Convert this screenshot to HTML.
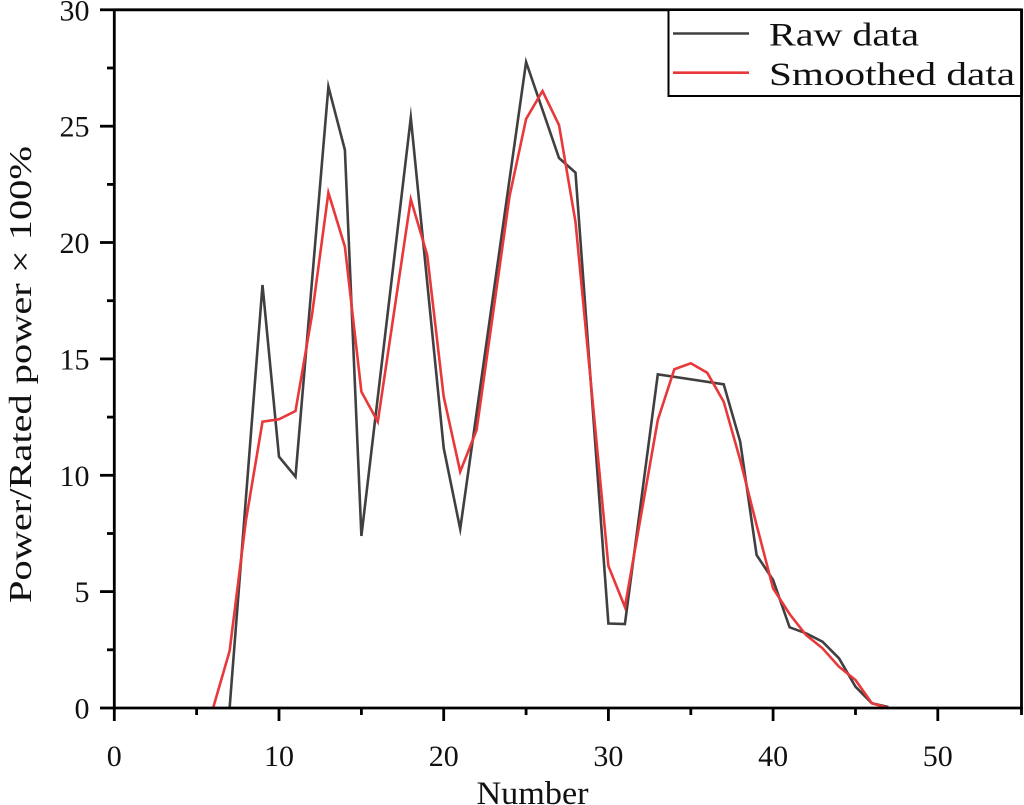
<!DOCTYPE html>
<html>
<head>
<meta charset="utf-8">
<style>
  html, body { margin: 0; padding: 0; background: #ffffff; }
  svg { display: block; }
  text { font-family: "Liberation Serif", "Noto Serif CJK SC", serif; fill: #111; }
</style>
</head>
<body>
<svg width="1024" height="805" viewBox="0 0 1024 805" xmlns="http://www.w3.org/2000/svg">
  <rect x="0" y="0" width="1024" height="805" fill="#ffffff"/>

  <!-- Series: Raw data -->
  <polyline fill="none" stroke="#404040" stroke-width="2.6" stroke-linejoin="miter" stroke-miterlimit="10"
    points="229.6,708 262.5,285 279,456.7 295.5,476.7 328.4,86.7 344.9,150 361.4,536 410.8,117.7 443.7,448 460.2,529 526.1,62 559,158 575.5,172.6 608.4,623.5 624.9,624 657.8,374.3 723.7,384.3 740.2,441.7 756.6,555 773.1,580 789.6,627.3 806,633.3 822.5,641.7 839,658.3 855.5,686.7 871.9,703.3 888.4,707"/>

  <!-- Series: Smoothed data -->
  <polyline fill="none" stroke="#e8383a" stroke-width="2.6" stroke-linejoin="miter" stroke-miterlimit="10"
    points="213.1,708 229.6,651 246,520 262.5,421.7 279,419.3 295.5,411 312,315 328.4,192.7 344.9,246.7 361.4,391.7 377.8,421.7 410.8,199.3 427.2,255 443.7,396.7 460.2,471.7 476.6,430 509.6,196 526.1,119 542.5,91 559,125 575.5,222 608.4,566 624.9,607 657.8,420 674.3,369.3 690.8,363.3 707.2,372.7 723.7,401.7 740.2,460 756.6,525 773.1,588.3 789.6,614 806,635 822.5,648.3 839,666.7 855.5,680 871.9,703.3 888.4,708"/>

  <!-- Axes frame -->
  <g stroke="#000" stroke-width="2.8" fill="none">
    <line x1="114.3" y1="9.8" x2="1021.5" y2="9.8"/>
    <line x1="1021.5" y1="8.5" x2="1021.5" y2="715"/>
    <line x1="114.3" y1="8.5" x2="114.3" y2="709.4"/>
    <line x1="112.9" y1="708" x2="1022.9" y2="708"/>
  </g>

  <!-- X ticks -->
  <g stroke="#000" stroke-width="2.8">
    <line x1="114.3" y1="708" x2="114.3" y2="721"/>
    <line x1="279" y1="708" x2="279" y2="721"/>
    <line x1="443.7" y1="708" x2="443.7" y2="721"/>
    <line x1="608.4" y1="708" x2="608.4" y2="721"/>
    <line x1="773.1" y1="708" x2="773.1" y2="721"/>
    <line x1="937.8" y1="708" x2="937.8" y2="721"/>
    <line x1="196.6" y1="708" x2="196.6" y2="715"/>
    <line x1="361.4" y1="708" x2="361.4" y2="715"/>
    <line x1="526.1" y1="708" x2="526.1" y2="715"/>
    <line x1="690.8" y1="708" x2="690.8" y2="715"/>
    <line x1="855.5" y1="708" x2="855.5" y2="715"/>
  </g>

  <!-- Y ticks -->
  <g stroke="#000" stroke-width="2.8">
    <line x1="100" y1="708" x2="114.3" y2="708"/>
    <line x1="100" y1="591.6" x2="114.3" y2="591.6"/>
    <line x1="100" y1="475.3" x2="114.3" y2="475.3"/>
    <line x1="100" y1="358.9" x2="114.3" y2="358.9"/>
    <line x1="100" y1="242.5" x2="114.3" y2="242.5"/>
    <line x1="100" y1="126.2" x2="114.3" y2="126.2"/>
    <line x1="100" y1="9.8" x2="114.3" y2="9.8"/>
    <line x1="107" y1="649.8" x2="114.3" y2="649.8"/>
    <line x1="107" y1="533.5" x2="114.3" y2="533.5"/>
    <line x1="107" y1="417.1" x2="114.3" y2="417.1"/>
    <line x1="107" y1="300.7" x2="114.3" y2="300.7"/>
    <line x1="107" y1="184.4" x2="114.3" y2="184.4"/>
    <line x1="107" y1="68" x2="114.3" y2="68"/>
  </g>

  <!-- Y tick labels -->
  <g font-size="30" text-anchor="end">
    <text x="89.5" y="718.5">0</text>
    <text x="89.5" y="602">5</text>
    <text x="89.5" y="485.8">10</text>
    <text x="89.5" y="369.4">15</text>
    <text x="89.5" y="253">20</text>
    <text x="89.5" y="136.7">25</text>
    <text x="89.5" y="20.3">30</text>
  </g>

  <!-- X tick labels -->
  <g font-size="30" text-anchor="middle">
    <text x="114.3" y="766">0</text>
    <text x="279" y="766">10</text>
    <text x="443.7" y="766">20</text>
    <text x="608.4" y="766">30</text>
    <text x="773.1" y="766">40</text>
    <text x="937.8" y="766">50</text>
  </g>

  <!-- Axis titles -->
  <text x="476.5" y="804" font-size="33" textLength="112" lengthAdjust="spacingAndGlyphs">Number</text>
  <text transform="translate(31,603) rotate(-90)" font-size="32" textLength="457" lengthAdjust="spacingAndGlyphs">Power/Rated power × 100%</text>

  <!-- Legend -->
  <rect x="668.5" y="10" width="353" height="86" fill="#fff" stroke="#000" stroke-width="2"/>
  <line x1="1021.5" y1="8.5" x2="1021.5" y2="97" stroke="#000" stroke-width="2.8"/>
  <line x1="673" y1="33.5" x2="749" y2="33.5" stroke="#404040" stroke-width="2.6"/>
  <line x1="673" y1="72.7" x2="749" y2="72.7" stroke="#e8383a" stroke-width="2.6"/>
  <text x="769" y="45.5" font-size="33" textLength="150" lengthAdjust="spacingAndGlyphs">Raw data</text>
  <text x="769" y="85" font-size="33" textLength="246" lengthAdjust="spacingAndGlyphs">Smoothed data</text>
</svg>
</body>
</html>
